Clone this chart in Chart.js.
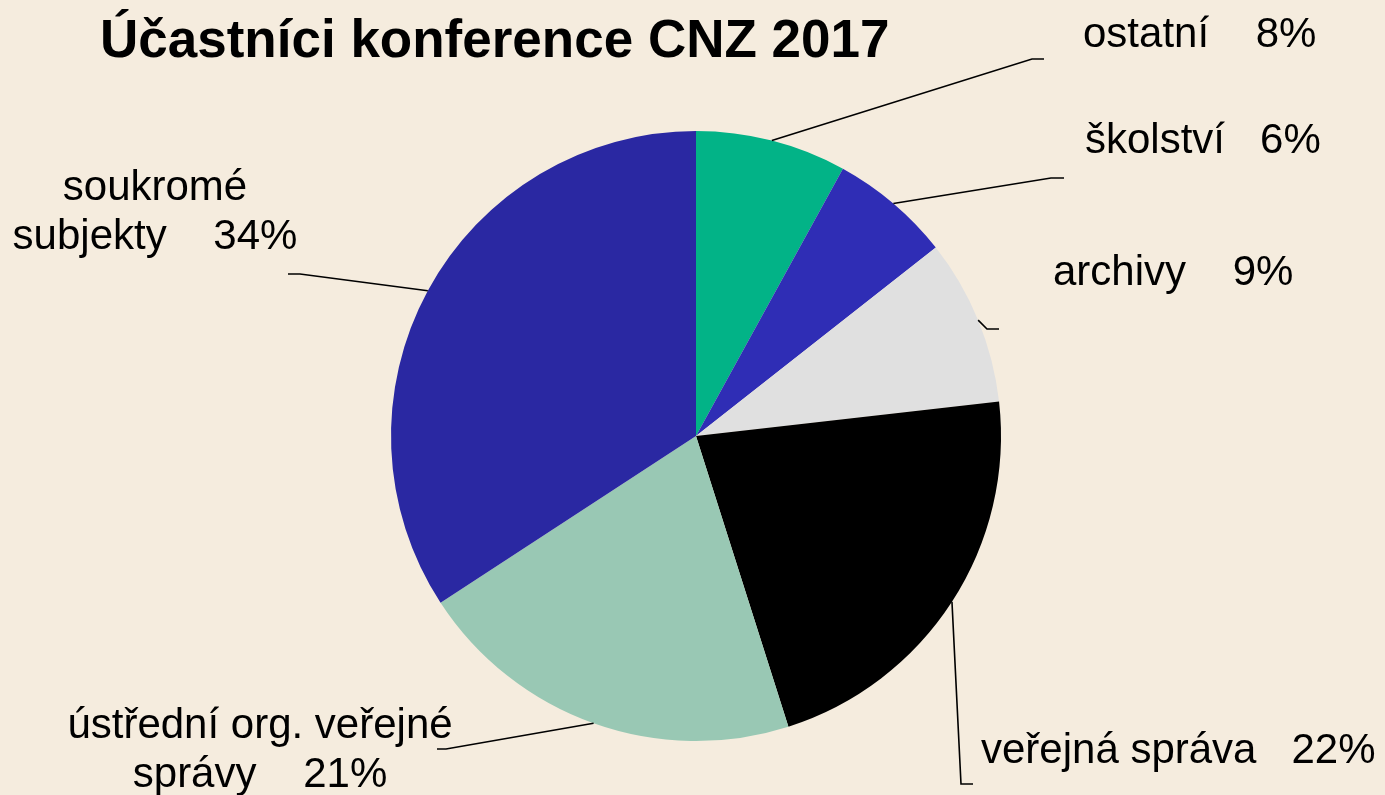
<!DOCTYPE html>
<html>
<head>
<meta charset="utf-8">
<script src="https://cdn.jsdelivr.net/npm/chart.js@4"></script>
<style>
  html, body { margin: 0; padding: 0; background: #F5ECDE; }
  #graph { display: block; }
</style>
</head>
<body>
<canvas id="graph" width="1385" height="795"></canvas>
<script>
// data (clockwise from 12 o'clock)
const categories = ["ostatní", "školství", "archivy", "veřejná správa", "ústřední org. veřejné správy", "soukromé subjekty"];
const shares = [8.0, 6.4, 8.8, 21.9, 20.7, 34.2];
const sliceColors = ["#02B387", "#2F2DB5", "#E0E0E0", "#000000", "#99C8B4", "#2A28A2"];
const chartTitle = "Účastníci konference CNZ 2017";

// label text lines, {p} is replaced by the rounded percentage
const labelLines = [
    ["ostatní    {p}"],
    ["školství   {p}"],
    ["archivy    {p}"],
    ["veřejná správa   {p}"],
    ["ústřední org. veřejné", "správy    {p}"],
    ["soukromé", "subjekty    {p}"]
];

var total = shares.reduce((a, b) => a + b, 0);
var pct = shares.map(v => Math.round(v / total * 100) + "%");

// where each label sits and where its leader line bends
var labelLayout = [
    { x: 1083, y: 47, align: "left", bend: [1032, 59], end: [1044, 59] },
    { x: 1085, y: 153, align: "left", bend: [1051, 178], end: [1064, 178] },
    { x: 1053, y: 285, align: "left", bend: [987, 329], end: [999, 329] },
    { x: 981, y: 763, align: "left", bend: [961, 784], end: [973, 784] },
    { x: 260, y: 738, align: "center", bend: [446, 749], end: [437, 749] },
    { x: 155, y: 200, align: "center", bend: [300, 274], end: [288, 274] }
];

var labelPlugin = {
    id: "labelPlugin",
    afterDraw: function (chart) {
        const ctx = chart.ctx;
        const meta = chart.getDatasetMeta(0);
        ctx.save();

        ctx.fillStyle = "#000";
        ctx.textBaseline = "alphabetic";
        ctx.font = "bold 53px 'Liberation Sans', Arial, sans-serif";
        ctx.textAlign = "left";
        ctx.fillText(chartTitle, 100, 57);

        ctx.strokeStyle = "#000";
        ctx.lineWidth = 1.6;
        ctx.font = "42px 'Liberation Sans', Arial, sans-serif";
        meta.data.forEach(function (arc, i) {
            var mid = (arc.startAngle + arc.endAngle) / 2;
            var sx = arc.x + Math.cos(mid) * arc.outerRadius;
            var sy = arc.y + Math.sin(mid) * arc.outerRadius;
            var lay = labelLayout[i];
            ctx.beginPath();
            ctx.moveTo(sx, sy);
            ctx.lineTo(lay.bend[0], lay.bend[1]);
            ctx.lineTo(lay.end[0], lay.end[1]);
            ctx.stroke();

            ctx.textAlign = lay.align;
            labelLines[i].forEach(function (line, k) {
                ctx.fillText(line.replace("{p}", pct[i]), lay.x, lay.y + k * 49);
            });
        });
        ctx.restore();
    }
};

const ctx = document.getElementById("graph").getContext("2d");
var graph = new Chart(ctx, {
    type: "pie",
    data: {
        labels: categories,
        datasets: [{
            data: shares,
            backgroundColor: sliceColors,
            borderWidth: 0
        }]
    },
    options: {
        responsive: false,
        animation: false,
        layout: {
            padding: { top: 131, bottom: 54, left: 391, right: 384 }
        },
        plugins: {
            legend: { display: false },
            tooltip: { enabled: false },
            title: { display: false }
        }
    },
    plugins: [labelPlugin]
});
</script>
</body>
</html>
